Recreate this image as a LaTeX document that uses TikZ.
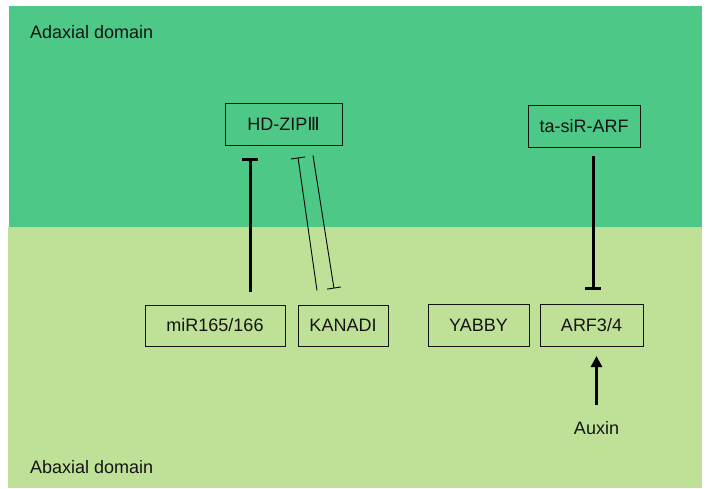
\documentclass[tikz,border=0pt]{standalone}
\usepackage{fontspec}
\setmainfont{Liberation Sans}
\newfontfamily\romnum{DejaVu Sans}
\usetikzlibrary{arrows.meta}
\definecolor{adaxial}{RGB}{77,200,135}
\definecolor{abaxial}{RGB}{190,225,151}
\definecolor{ink}{RGB}{20,20,20}
\tikzset{
  genebox/.style={draw=ink, line width=1pt, inner sep=0pt, font=\fontsize{18}{20}\selectfont, text=ink},
  label/.style={inner sep=0pt, font=\fontsize{18}{20}\selectfont, text=ink},
  repress/.style={draw=black, line width=3pt, -{Bar[width=16pt,line width=3pt]}},
  thinrepress/.style={draw=black, line width=0.9pt, -{Bar[width=14pt,line width=0.9pt]}},
  promote/.style={draw=black, line width=2.6pt, -{Triangle[width=11pt,length=11pt]}},
}
\begin{document}
\begin{tikzpicture}[x=1pt,y=-1pt]
  \useasboundingbox (0,0) rectangle (709,488);
  % leaf domains
  \fill[adaxial] (9,6) rectangle (702,227);
  \fill[abaxial] (8,227) rectangle (702,488);
  \node[label, anchor=west] (adtxt) at (30,32) {Adaxial domain};
  \node[label, anchor=west] (abtxt) at (30,467) {Abaxial domain};

  % regulators
  \node[genebox, minimum width=117pt, minimum height=42pt] (hd) at (283.5,124) {HD-ZIP{\romnum Ⅲ}};
  \node[genebox, minimum width=112pt, minimum height=42pt] (tas) at (584,126) {ta-siR-ARF};
  \node[genebox, minimum width=140pt, minimum height=41pt] (mir) at (215,325.5) {miR165/166};
  \node[genebox, minimum width=90pt, minimum height=41pt] (kan) at (343,325.5) {KANADI};
  \node[genebox, minimum width=101pt, minimum height=42pt] (yab) at (478.5,325.5) {YABBY};
  \node[genebox, minimum width=103pt, minimum height=42pt] (arf) at (591.5,325.5) {ARF3/4};
  \node[label] (aux) at (596.5,428) {Auxin};

  % interactions (yshift is measured upwards on the page)
  \draw[repress] ([xshift=35pt,yshift=13pt]mir.north) -- ([xshift=-33.5pt,yshift=-12pt]hd.south);
  \draw[thinrepress] ([xshift=-26pt,yshift=14pt]kan.north) -- ([xshift=14.5pt,yshift=-12pt]hd.south);
  \draw[thinrepress] ([xshift=29.5pt,yshift=-10pt]hd.south) -- ([xshift=-9pt,yshift=16pt]kan.north);
  \draw[repress] ([xshift=9pt,yshift=-8pt]tas.south) -- ([xshift=1.5pt,yshift=14pt]arf.north);
  \draw[promote] ([yshift=16pt]aux.north) -- ([yshift=-9pt]aux.north |- arf.south);
\end{tikzpicture}
\end{document}
